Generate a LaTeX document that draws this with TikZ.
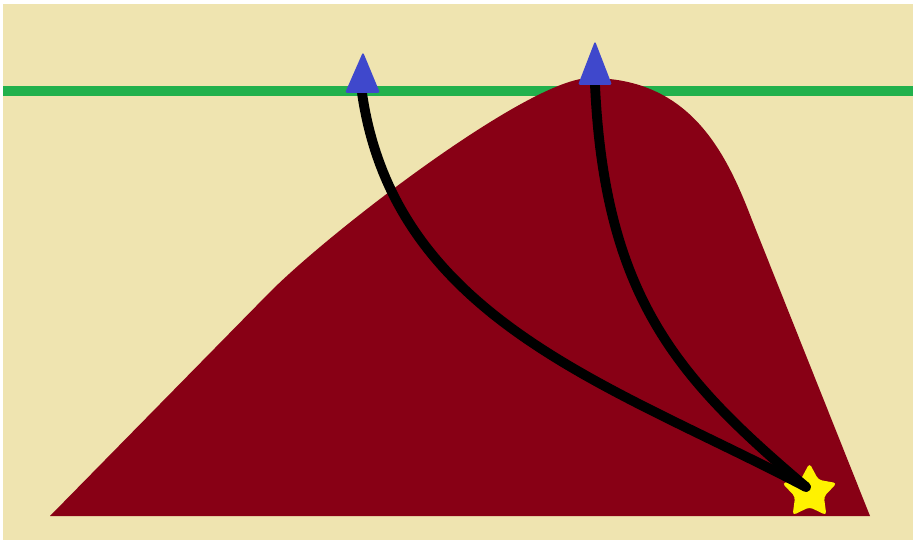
\documentclass[tikz,border=0pt]{standalone}
\usepackage{tikz}
\usetikzlibrary{shapes.geometric}
\definecolor{paintred}{HTML}{880015}
\definecolor{painttan}{HTML}{EFE4B0}
\definecolor{paintgreen}{HTML}{22B14C}
\definecolor{paintblue}{HTML}{3F48CC}
\definecolor{paintyellow}{HTML}{FFF200}

\begin{document}
\begin{tikzpicture}[x=0.02cm, y=-0.02cm,
    flag/.style={fill=paintblue, rounded corners=1pt},
    route/.style={draw=black, line width=5.6pt, line cap=round},
    goal/.style={star, star points=5, star point ratio=1.9, fill=paintyellow,
                 minimum size=1.15cm, inner sep=0pt, rounded corners=2pt},
]
    % canvas
    \useasboundingbox (0,0) rectangle (913,540);
    \fill[white] (0,0) rectangle (913,540);
    \fill[painttan] (3,4) rectangle (913,540);

    % horizon
    \draw[paintgreen, line width=5.7pt] (3,91) -- (913,91);

    % mountain
    \fill[paintred] (50,516) -- (270,292)
        .. controls (333,229) and (530,78) .. (590,78)
        .. controls (690,78) and (726,152) .. (752,220)
        -- (870,516) -- cycle;

    % star and flags
    \node[goal] (camp) at (809.5,492) {};
    \coordinate (campTop) at (806,487);
    \coordinate (flagA) at (362,93);
    \coordinate (flagB) at (595,85);

    % routes
    \draw[route] (campTop) .. controls (612,385) and (395,320) .. (flagA);
    \draw[route] (campTop) .. controls (680,380) and (605,300) .. (flagB);

    \fill[flag] (flagA) ++(-17,0) -- ++(18,-41) -- ++(17,41) -- cycle;
    \fill[flag] (flagB) ++(-17,0) -- ++(17,-44) -- ++(17,44) -- cycle;
\end{tikzpicture}
\end{document}
